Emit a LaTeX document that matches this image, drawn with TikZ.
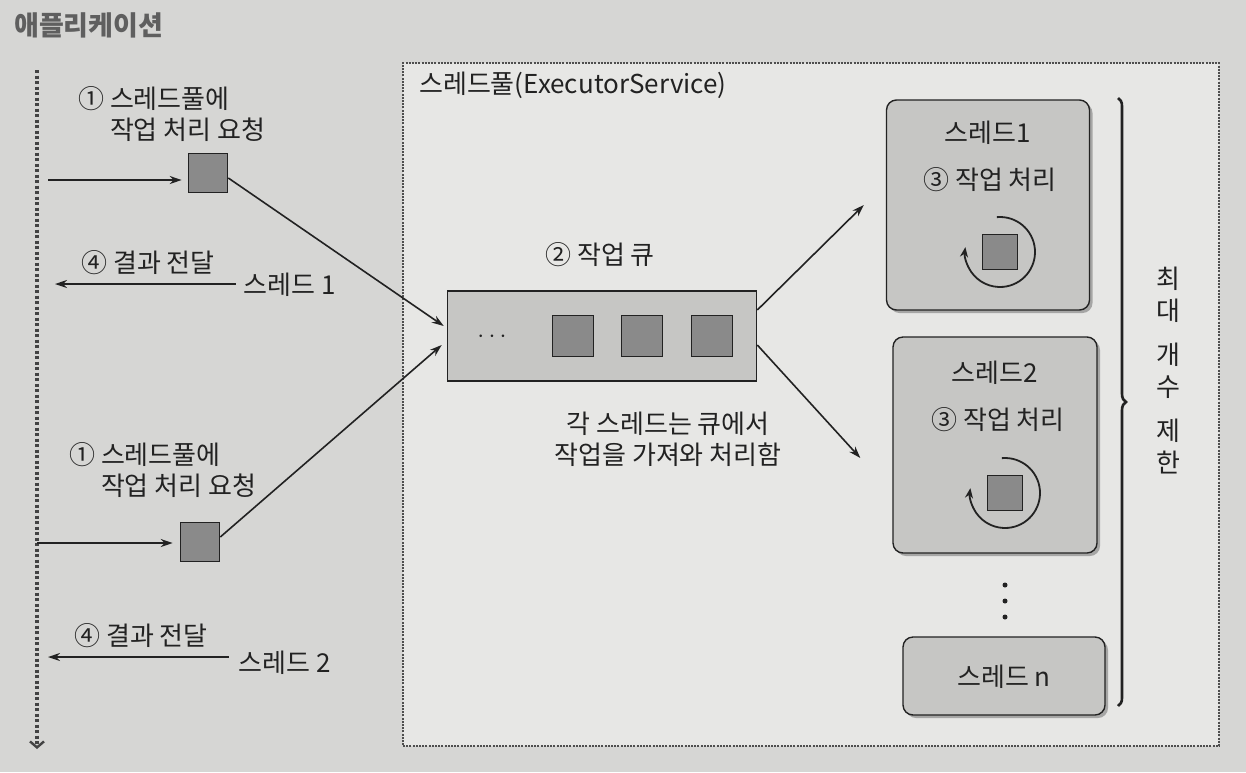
\documentclass[tikz,border=0pt]{standalone}
\usepackage{fontspec}
\setmainfont{Noto Sans CJK KR}
\usetikzlibrary{arrows.meta,shadows,decorations.pathreplacing}
\definecolor{pagegray}{RGB}{214,214,212}
\definecolor{poolgray}{RGB}{231,231,229}
\definecolor{boxgray}{RGB}{198,198,196}
\definecolor{taskgray}{RGB}{138,138,138}
\definecolor{inkgray}{RGB}{34,34,34}
\definecolor{titlegray}{RGB}{95,95,95}

\begin{document}
\begin{tikzpicture}[x=1pt, y=1pt,
                    every node/.style={font=\fontsize{26}{31}\selectfont, text=inkgray, inner sep=0pt},
                    edge_style/.style={draw=inkgray, line width=1.6pt, -{Stealth[length=12pt,width=8pt]}},
                    task_style/.style={draw=inkgray, line width=1.6pt, fill=taskgray, minimum size=39pt},
                    queue_style/.style={draw=inkgray, line width=1.6pt, fill=boxgray, minimum width=309pt, minimum height=90pt},
                    pool_style/.style={draw=inkgray!80, line width=2pt, dash pattern=on 2pt off 1.2pt, fill=poolgray},
                    thread_style/.style={draw=inkgray, line width=1.4pt, rounded corners=10pt, fill=boxgray,
                                         drop shadow={shadow xshift=3pt, shadow yshift=-3pt, fill=black!60}},
                    loop_style/.style={draw=inkgray, line width=1.8pt, -{Stealth[length=10pt,width=8pt]}}]
                    \fill[pagegray] (0,0) rectangle (1246,-772);
                    \useasboundingbox (0,0) rectangle (1246,-772);
                    \node[anchor=west, text=titlegray, font=\fontsize{27}{30}\selectfont\bfseries] (app) at (14,-25) {애플리케이션};
                    \coordinate (lane_top) at (37,-70);
                    \coordinate (lane_bot) at (37,-749);
                    \draw[draw=inkgray!85, line width=4.5pt, dash pattern=on 3pt off 2.5pt,
                          -{Straight Barb[length=6pt,width=14pt,line width=2.4pt]}] (lane_top) -- (lane_bot);
                    \node[pool_style, anchor=north west, minimum width=816pt, minimum height=683pt] (pool) at (402,-62) {};
                    \node[anchor=west] (pool_name) at (419,-85) {스레드풀(ExecutorService)};
                    \node[anchor=west, align=left] (req1) at (78,-114) {① 스레드풀에\\\phantom{①} 작업 처리 요청};
                    \node[task_style] (r1) at (208,-173) {};
                    \coordinate (in1) at (48,-180);
                    \draw[edge_style, shorten >=6pt] (in1) -- (in1 -| r1.west);
                    \node (res1) at (148,-263) {④ 결과 전달};
                    \node (th1) at (290,-285) {스레드 1};
                    \coordinate (out1) at (55,-284);
                    \draw[edge_style] (th1.west) ++(-8,1) -- (out1);
                    \node[anchor=west, align=left] (req2) at (69,-470) {① 스레드풀에\\\phantom{①} 작업 처리 요청};
                    \node[task_style] (r2) at (200,-542) {};
                    \coordinate (in2) at (37,-543);
                    \draw[edge_style, shorten >=7pt] (in2) -- (in2 -| r2.west);
                    \node (res2) at (141,-636) {④ 결과 전달};
                    \node (th2) at (285,-663) {스레드 2};
                    \coordinate (out2) at (48,-657);
                    \draw[edge_style] (th2.west) ++(-10,6) -- (out2);
                    \node[queue_style] (q) at (602,-336) {};
                    \node (q_name) at (600,-255) {② 작업 큐};
                    \node (q_dots) at (492,-337) {$\cdots$};
                    \node[task_style, minimum size=41pt] (q1) at (573,-336) {};
                    \node[task_style, minimum size=41pt] (q2) at (642,-336) {};
                    \node[task_style, minimum size=41pt] (q3) at (712,-336) {};
                    \node[align=center] (q_note) at (668,-439) {각 스레드는 큐에서\\작업을 가져와 처리함};
                    \draw[edge_style] ([yshift=-5pt]r1.east) -- ([xshift=-3pt,yshift=10pt]q.west);
                    \draw[edge_style] ([yshift=5pt]r2.east) -- ([xshift=-5pt,yshift=-9pt]q.west);
                    \node[thread_style, minimum width=203pt, minimum height=210pt] (t1) at (988,-205) {};
                    \node (t1_name) at (988,-133) {스레드1};
                    \node (t1_work) at (990,-180) {③ 작업 처리};
                    \node[task_style, minimum size=35pt] (w1) at (1000,-252) {};
                    \draw[loop_style] ([shift={(95:35)}]w1.center) arc[start angle=95, end angle=-188, radius=35];
                    \node[thread_style, minimum width=204pt, minimum height=216pt] (t2) at (995,-445) {};
                    \node (t2_name) at (995,-373) {스레드2};
                    \node (t2_work) at (998,-420) {③ 작업 처리};
                    \node[task_style, minimum size=35pt] (w2) at (1005,-493) {};
                    \draw[loop_style] ([shift={(95:35)}]w2.center) arc[start angle=95, end angle=-188, radius=35];
                    \fill[inkgray] (1005,-585) circle (2.5);
                    \fill[inkgray] (1005,-601) circle (2.5);
                    \fill[inkgray] (1005,-617) circle (2.5);
                    \node[thread_style, minimum width=202pt, minimum height=78pt] (tn) at (1004,-676) {};
                    \node (tn_name) at (1004,-677) {스레드 n};
                    \draw[edge_style] ([yshift=26pt]q.east) -- ([xshift=-22pt]t1.west);
                    \draw[edge_style] ([yshift=-9pt]q.east) -- ([xshift=-32pt,yshift=-13pt]t2.west);
                    \draw[draw=inkgray, line width=2.6pt, decorate, decoration={brace, amplitude=8pt}] (1118,-98) -- (1118,-706);
                    \node[align=center, font=\fontsize{26}{32}\selectfont] (limit) at (1168,-370) {최\\대\\[12pt]개\\수\\[12pt]제\\한};
                \end{tikzpicture}
\end{document}
